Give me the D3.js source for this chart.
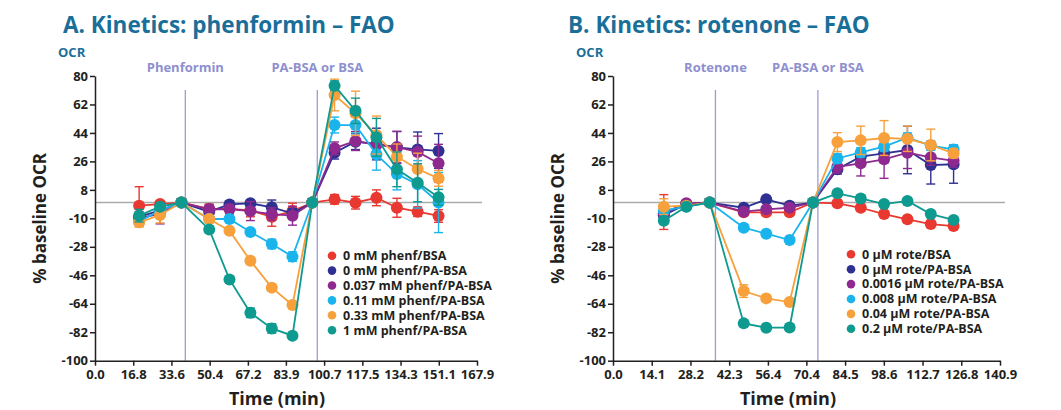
<!DOCTYPE html>
<html>
<head>
<meta charset="utf-8">
<script src="https://cdn.jsdelivr.net/npm/d3@7"></script>
<style>
  body { margin: 0; background: #fff; }
  text { font-family: "Open Sans", sans-serif; font-weight: 700; }
</style>
</head>
<body>
<svg id="chart" width="1061" height="410"></svg>
<script>
// ---- data ----
const seriesColors = ["#e8382f", "#2e3192", "#8e2a8f", "#1ab4ec", "#f7a03c", "#0f9a8f"];
const yTicks = [80, 62, 44, 26, 8, -10, -28, -46, -64, -82, -100];

// panel A: phenformin
const phenNames = ["0 mM phenf/BSA", "0 mM phenf/PA-BSA", "0.037 mM phenf/PA-BSA",
    "0.11 mM phenf/PA-BSA", "0.33 mM phenf/PA-BSA", "1 mM phenf/PA-BSA"];
const phenTimes = [19.4, 28.6, 38.0, 50.2, 59.1, 68.3, 77.7, 86.8, 95.5, 105.3, 114.5, 123.7, 132.7, 141.8, 151.0];
const phenValues = [
    [-2, -1, 0, -4, -4, -5, -9, -5.4, 0, 2, -0.1, 3, -3.3, -5.8, -8.5],
    [-9, -5, 0, -5.8, -1.2, -0.5, -3, -6.8, 0, 31.5, 38.5, 37, 34.9, 33.6, 32.6],
    [-10, -7, 0, -4.3, -4.1, -5.4, -7.3, -8.3, 0, 34.3, 38.9, 36.4, 35, 32, 24.8],
    [-12, -5, 0, -10.4, -10.4, -18.6, -26.2, -34.2, 0, 49, 49, 30.5, 18, 11.5, 0],
    [-12.5, -7.9, 0, -10.4, -17.8, -36.8, -53.8, -64.8, 0, 68, 56.4, 42.7, 29, 21.2, 15.3],
    [-8.3, -2.6, 0, -17, -48.6, -69.7, -79.6, -84.2, 0, 73.9, 58, 41.2, 21, 12.5, 3.3]
];
const phenErrors = [
    [12, 2, 0, 3, 3, 4, 6, 5, 0, 3, 4, 5, 6, 3, 4],
    [3, 2, 0, 3, 2, 2, 4.6, 3, 0, 4, 5, 10, 10, 11, 11],
    [3, 6.5, 0, 3, 3, 6, 4, 6, 0, 4, 6, 8, 10, 10, 12],
    [3, 3, 0, 2, 2, 2, 3, 3, 0, 5, 5, 10, 10, 15, 19],
    [3, 5, 0, 2, 2, 2, 2, 2, 0, 10, 14, 12, 8, 10, 5],
    [4, 2, 0, 2, 2, 3, 3, 2, 0, 3, 8, 12, 11, 12, 5]
];
const phenXTickLabels = ["0.0", "16.8", "33.6", "50.4", "67.2", "83.9", "100.7", "117.5", "134.3", "151.1", "167.9"];
const phenInjections = [{ t: 39.7, label: "Phenformin" }, { t: 97.7, label: "PA-BSA or BSA" }];

// panel B: rotenone
const roteNames = ["0 µM rote/BSA", "0 µM rote/PA-BSA", "0.0016 µM rote/PA-BSA",
    "0.008 µM rote/PA-BSA", "0.04 µM rote/PA-BSA", "0.2 µM rote/PA-BSA"];
const roteTimes = [18.5, 26.7, 35.2, 47.6, 55.8, 64.3, 72.8, 81.7, 90.2, 98.7, 107.2, 115.7, 124.0];
const roteValues = [
    [-6, -1, 0, -6.2, -6.2, -6.2, 0, -0.5, -3.3, -7.3, -10.6, -13.6, -14.9],
    [-8, -1, 0, -3.3, 2, -2, 0, 21, 29, 31.1, 33.2, 23.7, 24.2],
    [-6.8, -0.5, 0, -5.8, -4.3, -3.3, 0, 22.6, 24.8, 27.3, 31.5, 28.6, 26.4],
    [-5.2, -2.5, 0, -15.9, -19.7, -23.7, 0, 27.9, 31.7, 35.3, 41, 36, 33.6],
    [-2.6, -2, 0, -56, -60.6, -62.9, 0, 38.2, 39.3, 40.8, 40.3, 36.4, 31.1],
    [-11.5, -2.6, 0, -76.4, -79.1, -79, 0, 5.8, 2.6, -1, 1, -7.3, -11]
];
const roteErrors = [
    [11, 2, 0, 2, 2, 2, 0, 2, 2, 2, 2, 2, 2],
    [2, 2, 0, 2, 2, 2, 0, 3, 4, 6, 15, 12, 12],
    [2, 2, 0, 2, 2, 2, 0, 4, 8, 12, 10, 5, 4],
    [2, 2, 0, 2, 2, 2, 0, 3, 3, 3, 3, 3, 3],
    [5, 2, 0, 4, 2, 2, 0, 6, 9, 11, 8, 10, 3],
    [2, 2, 0, 2, 2, 2, 0, 2, 2, 2, 2, 2, 2]
];
const roteXTickLabels = ["0.0", "14.1", "28.2", "42.3", "56.4", "70.4", "84.5", "98.6", "112.7", "126.8", "140.9"];
const roteInjections = [{ t: 37.3, label: "Rotenone" }, { t: 74.6, label: "PA-BSA or BSA" }];

// ---- drawing ----
const svg = d3.select("#chart");

function drawPanel(p) {
    const tickVals = p.tickLabels.map(Number);
    const x = d3.scaleLinear().domain([0, tickVals[tickVals.length - 1]]).range([p.left, p.right]);
    const y = d3.scaleLinear().domain([-100, 80]).range([360.7, 76]);
    const g = svg.append("g");

    // title and small labels
    g.append("text").attr("x", p.titleX).attr("y", 33)
        .attr("font-size", 22.5).attr("fill", "#1a6f99").text(p.title);
    g.append("text").attr("x", p.left - 37).attr("y", 57)
        .attr("font-size", 13).attr("fill", "#1a6f99").text("OCR");

    // zero line
    g.append("line")
        .attr("x1", p.left).attr("x2", p.right + 5)
        .attr("y1", y(0)).attr("y2", y(0))
        .attr("stroke", "#aaaaaa").attr("stroke-width", 1.6);

    // injection markers
    p.injections.forEach(inj => {
        g.append("line")
            .attr("x1", x(inj.t)).attr("x2", x(inj.t))
            .attr("y1", 90).attr("y2", y(-100))
            .attr("stroke", "#9c9dd6").attr("stroke-width", 1.3);
        g.append("text").attr("x", x(inj.t)).attr("y", 72)
            .attr("text-anchor", "middle").attr("font-size", 13)
            .attr("fill", "#8e8fcf").text(inj.label);
    });

    // axes
    const yAxis = g.append("g").attr("transform", `translate(${p.left},0)`)
        .call(d3.axisLeft(y).tickValues(yTicks).tickSize(5).tickSizeOuter(0).tickFormat(d => String(d)));
    const xAxis = g.append("g").attr("transform", `translate(0,${y(-100)})`)
        .call(d3.axisBottom(x).tickValues(tickVals).tickSize(5).tickSizeOuter(0)
            .tickFormat((d, i) => p.tickLabels[i]));
    [yAxis, xAxis].forEach(a => {
        a.select(".domain").attr("stroke", "#231f20").attr("stroke-width", 1.5);
        a.selectAll(".tick line").attr("stroke", "#231f20").attr("stroke-width", 1.5);
        a.selectAll(".tick text").attr("font-size", 13).attr("fill", "#231f20")
            .style("font-family", "'Open Sans', sans-serif").style("font-weight", 700);
    });
    yAxis.selectAll(".tick text").attr("x", -7);
    xAxis.selectAll(".tick text").attr("y", 9);

    // axis titles
    g.append("text")
        .attr("transform", `translate(${p.left - 49},${y(-10)}) rotate(-90)`)
        .attr("text-anchor", "middle").attr("font-size", 17).attr("fill", "#231f20")
        .text("% baseline OCR");
    g.append("text").attr("x", p.xTitleX).attr("y", 405)
        .attr("text-anchor", "middle").attr("font-size", 18).attr("fill", "#231f20")
        .text("Time (min)");

    // series
    const line = d3.line().x(d => x(d.t)).y(d => y(d.v));
    p.values.forEach((vals, s) => {
        const color = seriesColors[s];
        const pts = vals.map((v, i) => ({ t: p.times[i], v: v, e: p.errors[s][i] }));
        const sg = g.append("g");
        sg.append("path").datum(pts).attr("d", line)
            .attr("fill", "none").attr("stroke", color).attr("stroke-width", 1.8);
        const eb = sg.selectAll("g.err").data(pts.filter(d => d.e > 0)).enter().append("g");
        eb.append("line")
            .attr("x1", d => x(d.t)).attr("x2", d => x(d.t))
            .attr("y1", d => y(d.v - d.e)).attr("y2", d => y(d.v + d.e));
        eb.append("line")
            .attr("x1", d => x(d.t) - 4.5).attr("x2", d => x(d.t) + 4.5)
            .attr("y1", d => y(d.v + d.e)).attr("y2", d => y(d.v + d.e));
        eb.append("line")
            .attr("x1", d => x(d.t) - 4.5).attr("x2", d => x(d.t) + 4.5)
            .attr("y1", d => y(d.v - d.e)).attr("y2", d => y(d.v - d.e));
        eb.selectAll("line").attr("stroke", color).attr("stroke-width", 1.4);
        sg.selectAll("circle").data(pts).enter().append("circle")
            .attr("cx", d => x(d.t)).attr("cy", d => y(d.v))
            .attr("r", 6).attr("fill", color);
    });

    // legend
    const lg = g.append("g");
    p.names.forEach((name, i) => {
        const ly = p.legendY + i * 14.9;
        lg.append("circle").attr("cx", p.legendX).attr("cy", ly).attr("r", 4.3)
            .attr("fill", seriesColors[i]);
        lg.append("text").attr("x", p.legendX + 11).attr("y", ly).attr("dy", "0.35em")
            .attr("font-size", 12.5).attr("fill", "#231f20").text(name);
    });
}

drawPanel({
    title: "A. Kinetics: phenformin – FAO", titleX: 63,
    left: 95, right: 477, xTitleX: 277,
    tickLabels: phenXTickLabels, times: phenTimes, values: phenValues, errors: phenErrors,
    injections: phenInjections, names: phenNames, legendX: 332, legendY: 255.7
});

drawPanel({
    title: "B. Kinetics: rotenone – FAO", titleX: 568,
    left: 613, right: 1000, xTitleX: 788,
    tickLabels: roteXTickLabels, times: roteTimes, values: roteValues, errors: roteErrors,
    injections: roteInjections, names: roteNames, legendX: 851, legendY: 254.3
});
</script>
</body>
</html>
